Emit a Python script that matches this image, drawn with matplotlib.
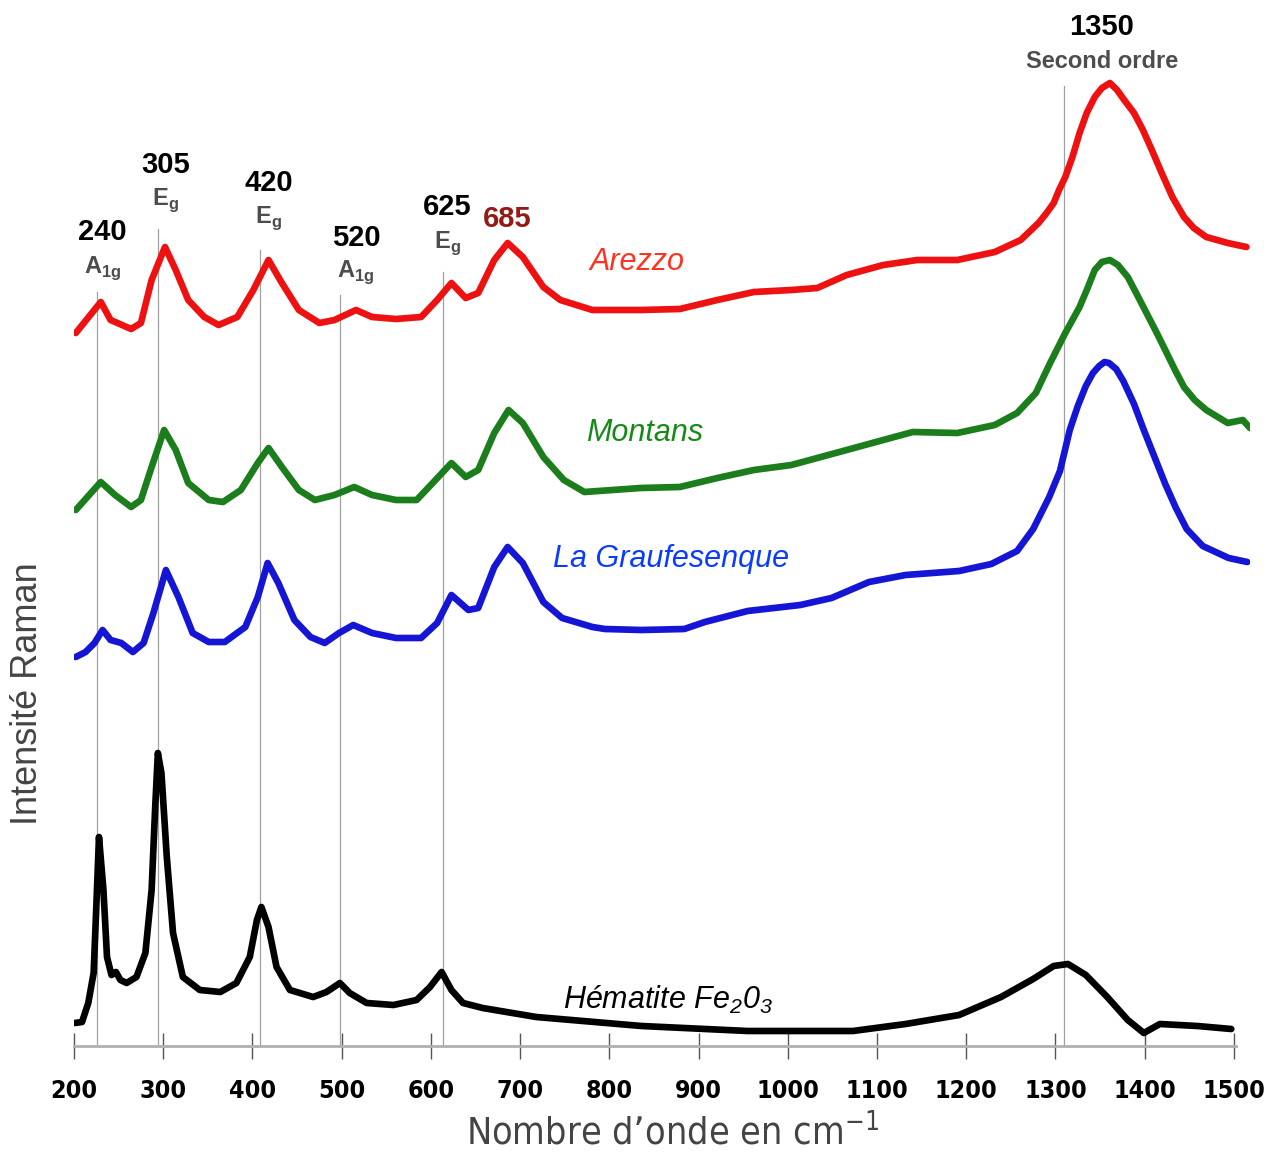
import matplotlib
matplotlib.use("Agg")
import matplotlib.pyplot as plt
from matplotlib import font_manager

# Raman spectra (wavenumber in cm-1, intensity in a.u., stacked)
arezzo_wn = [202, 230, 241, 264, 275, 287, 302, 314, 328, 346, 362, 383, 401, 418, 433,
             452, 475, 492, 516, 534, 561, 589, 607, 623, 639, 653, 671, 686, 703, 726,
             745, 781, 835, 879, 921, 962, 1004, 1033, 1066, 1107, 1145, 1190, 1232,
             1261, 1281, 1290, 1298, 1304, 1311, 1319, 1327, 1335, 1344, 1352, 1361,
             1369, 1377, 1388, 1398, 1408, 1419, 1431, 1444, 1455, 1469, 1493, 1514]
arezzo_i = [713, 744, 726, 717, 723, 766, 799, 776, 746, 729, 721, 729, 756, 786, 763,
            736, 723, 726, 736, 729, 727, 729, 746, 763, 748, 753, 786, 803, 789, 759,
            746, 736, 736, 737, 746, 754, 756, 758, 771, 781, 786, 786, 794,
            806, 823, 833, 843, 856, 869, 889, 913, 933, 949, 958, 963,
            956, 946, 933, 916, 896, 873, 849, 829, 818, 809, 803, 799]

montans_wn = [202, 230, 246, 264, 275, 287, 301, 314, 328, 351, 367, 387, 406, 418, 433,
              452, 470, 492, 514, 534, 561, 584, 602, 623, 639, 653, 671, 687, 703, 726,
              749, 772, 835, 879, 921, 962, 1004, 1033, 1066, 1107, 1140, 1190, 1232,
              1257, 1278, 1294, 1311, 1327, 1336, 1344, 1352, 1361, 1370, 1381, 1391,
              1402, 1413, 1423, 1434, 1444, 1456, 1469, 1493, 1510, 1518]
montans_i = [536, 564, 551, 539, 546, 579, 616, 596, 563, 546, 544, 556, 583, 598, 579,
             556, 546, 551, 559, 551, 546, 546, 563, 583, 569, 576, 613, 636, 623, 589,
             566, 554, 558, 559, 568, 576, 581, 588, 596, 606, 614, 613, 621,
             633, 653, 683, 713, 739, 758, 776, 784, 786, 781, 769, 752,
             733, 714, 696, 676, 659, 646, 636, 623, 626, 618]

graufesenque_wn = [202, 213, 223, 232, 241, 253, 266, 278, 289, 303, 317, 333, 351, 369,
                   392, 406, 417, 429, 447, 465, 481, 497, 513, 534, 561, 589, 607, 623,
                   642, 653, 671, 686, 703, 726, 747, 781, 795, 836, 884, 907, 955, 1014,
                   1049, 1091, 1132, 1192, 1228, 1257, 1275, 1293, 1305, 1316, 1325, 1334,
                   1342, 1349, 1355, 1360, 1368, 1376, 1388, 1399, 1411, 1423, 1435, 1447,
                   1465, 1494, 1515]
graufesenque_i = [389, 394, 403, 416, 406, 403, 394, 403, 433, 476, 449, 413, 404, 404,
                  419, 449, 483, 463, 426, 409, 403, 413, 421, 413, 408, 408, 423, 451,
                  436, 438, 479, 499, 483, 444, 428, 419, 417, 416, 417, 424, 435, 441,
                  448, 464, 471, 475, 482, 495, 517, 549, 575, 616, 640, 660,
                  673, 680, 684, 683, 677, 665, 642, 616, 589, 562, 538, 517,
                  500, 488, 484]

hematite_wn = [201, 209, 216, 222, 225, 228, 233, 237, 242, 247, 252, 259, 270, 280, 287,
               291, 294, 298, 304, 311, 322, 341, 364, 382, 397, 405, 410, 418, 427, 442,
               468, 483, 498, 509, 528, 558, 584, 599, 612, 623, 636, 658, 718, 836, 955,
               1073, 1132, 1192, 1239, 1275, 1298, 1314, 1334, 1358, 1381, 1399, 1417,
               1459, 1497]
hematite_i = [23, 24, 43, 73, 139, 209, 156, 89, 71, 74, 66, 63, 69, 93, 156,
              239, 293, 273, 189, 113, 69, 56, 54, 63, 89, 126, 139, 119, 79, 56,
              49, 54, 63, 53, 43, 41, 46, 59, 74, 56, 43, 38, 29, 20, 15,
              15, 22, 31, 49, 67, 80, 82, 71, 49, 26, 13, 22,
              20, 17]

# hematite reference bands (vertical guide lines) and how high each line reaches
band_wn = [226, 294, 408, 498, 613, 1309]
band_top = [754, 817, 796, 751, 774, 960]

# peak labels: value, mode label, x, y of value, y of mode label
peak_labels = ["240", "305", "420", "520", "625"]
peak_modes = ["A", "E", "E", "A", "E"]
peak_subs = ["1g", "g", "g", "1g", "g"]
peak_x = [232, 303, 418, 516, 618]
peak_y = [814, 881, 863, 808, 839]
mode_y = [778, 846, 828, 774, 803]

xticks = list(range(200, 1501, 100))

# narrow font for the axis texts, if one is installed
fonts = font_manager.fontManager.ttflist
narrow_kw = dict(fontfamily="Liberation Sans")
tick_size = 17
if any(f.name == "Liberation Sans Narrow" for f in fonts):
    narrow_kw = dict(fontfamily="Liberation Sans Narrow")
    tick_size = 20
elif any(f.name == "DejaVu Sans" and f.stretch == "condensed" for f in fonts):
    narrow_kw = dict(fontfamily="DejaVu Sans", fontstretch="condensed")
    tick_size = 18

plt.rcParams["font.family"] = ["Liberation Sans", "DejaVu Sans"]

fig = plt.figure(figsize=(12.69, 11.53), dpi=100)
ax = fig.add_axes([74 / 1269, 107 / 1153, 1176 / 1269, 1046 / 1153])
ax.set_xlim(200, 1518)
ax.set_ylim(0, 1046)

for x, top in zip(band_wn, band_top):
    ax.plot([x, x], [0, top], color="#a0a0a0", linewidth=0.9, zorder=1)

line_kw = dict(linewidth=4.8, solid_joinstyle="round", solid_capstyle="round", zorder=3)
ax.plot(arezzo_wn, arezzo_i, color="#ee1111", **line_kw)
ax.plot(montans_wn, montans_i, color="#1b7d1b", **line_kw)
ax.plot(graufesenque_wn, graufesenque_i, color="#1515d5", **line_kw)
ax.plot(hematite_wn, hematite_i, color="black", **line_kw)

# curve names
ax.text(831, 784, "Arezzo", color="#ff3322", fontsize=22, style="italic", ha="center", va="center")
ax.text(840, 613, "Montans", color="#168a16", fontsize=22, style="italic", ha="center", va="center")
ax.text(869, 487, "La Graufesenque", color="#0a3cff", fontsize=22, style="italic",
        ha="center", va="center")
ax.text(866, 46, r"Hématite Fe$_{\mathregular{2}}$0$_{\mathregular{3}}$", color="black",
        fontsize=22, style="italic", ha="center", va="center")

# peak annotations
for lab, mode, sub, x, y1, y2 in zip(peak_labels, peak_modes, peak_subs, peak_x, peak_y, mode_y):
    ax.text(x, y1, lab, fontsize=21, fontweight="bold", ha="center", va="center")
    ax.text(x, y2, mode + r"$_{\mathregular{" + sub + "}}$", fontsize=17, fontweight="bold",
            color="#4d4d4d", ha="center", va="center")
ax.text(686, 827, "685", fontsize=21, fontweight="bold", color="#951a14", ha="center", va="center")
ax.text(1352, 1019, "1350", fontsize=21, fontweight="bold", ha="center", va="center")
ax.text(1352, 984, "Second ordre", fontsize=17, fontweight="bold", color="#4d4d4d",
        ha="center", va="center")

for s in ["left", "right", "top"]:
    ax.spines[s].set_visible(False)
ax.spines["bottom"].set_color("#b0b0b0")
ax.spines["bottom"].set_linewidth(2.0)
ax.spines["bottom"].set_bounds(200, 1502)
ax.set_yticks([])
ax.set_xticks(xticks)
ax.set_xticklabels([str(t) for t in xticks], fontweight="bold", fontsize=tick_size, **narrow_kw)
ax.tick_params(axis="x", direction="inout", length=19, width=1.0, color="#555555", pad=14)

fig.text(673 / 1269, 1 - 1133 / 1153, r"Nombre d’onde en cm$^{\mathregular{-1}}$",
         fontsize=27, color="#444444", ha="center", va="center", **narrow_kw)
fig.text(28 / 1269, 1 - 694 / 1153, "Intensité Raman", fontsize=26, color="#444444",
         rotation=90, ha="center", va="center")

fig.savefig("out.png", dpi=100)
